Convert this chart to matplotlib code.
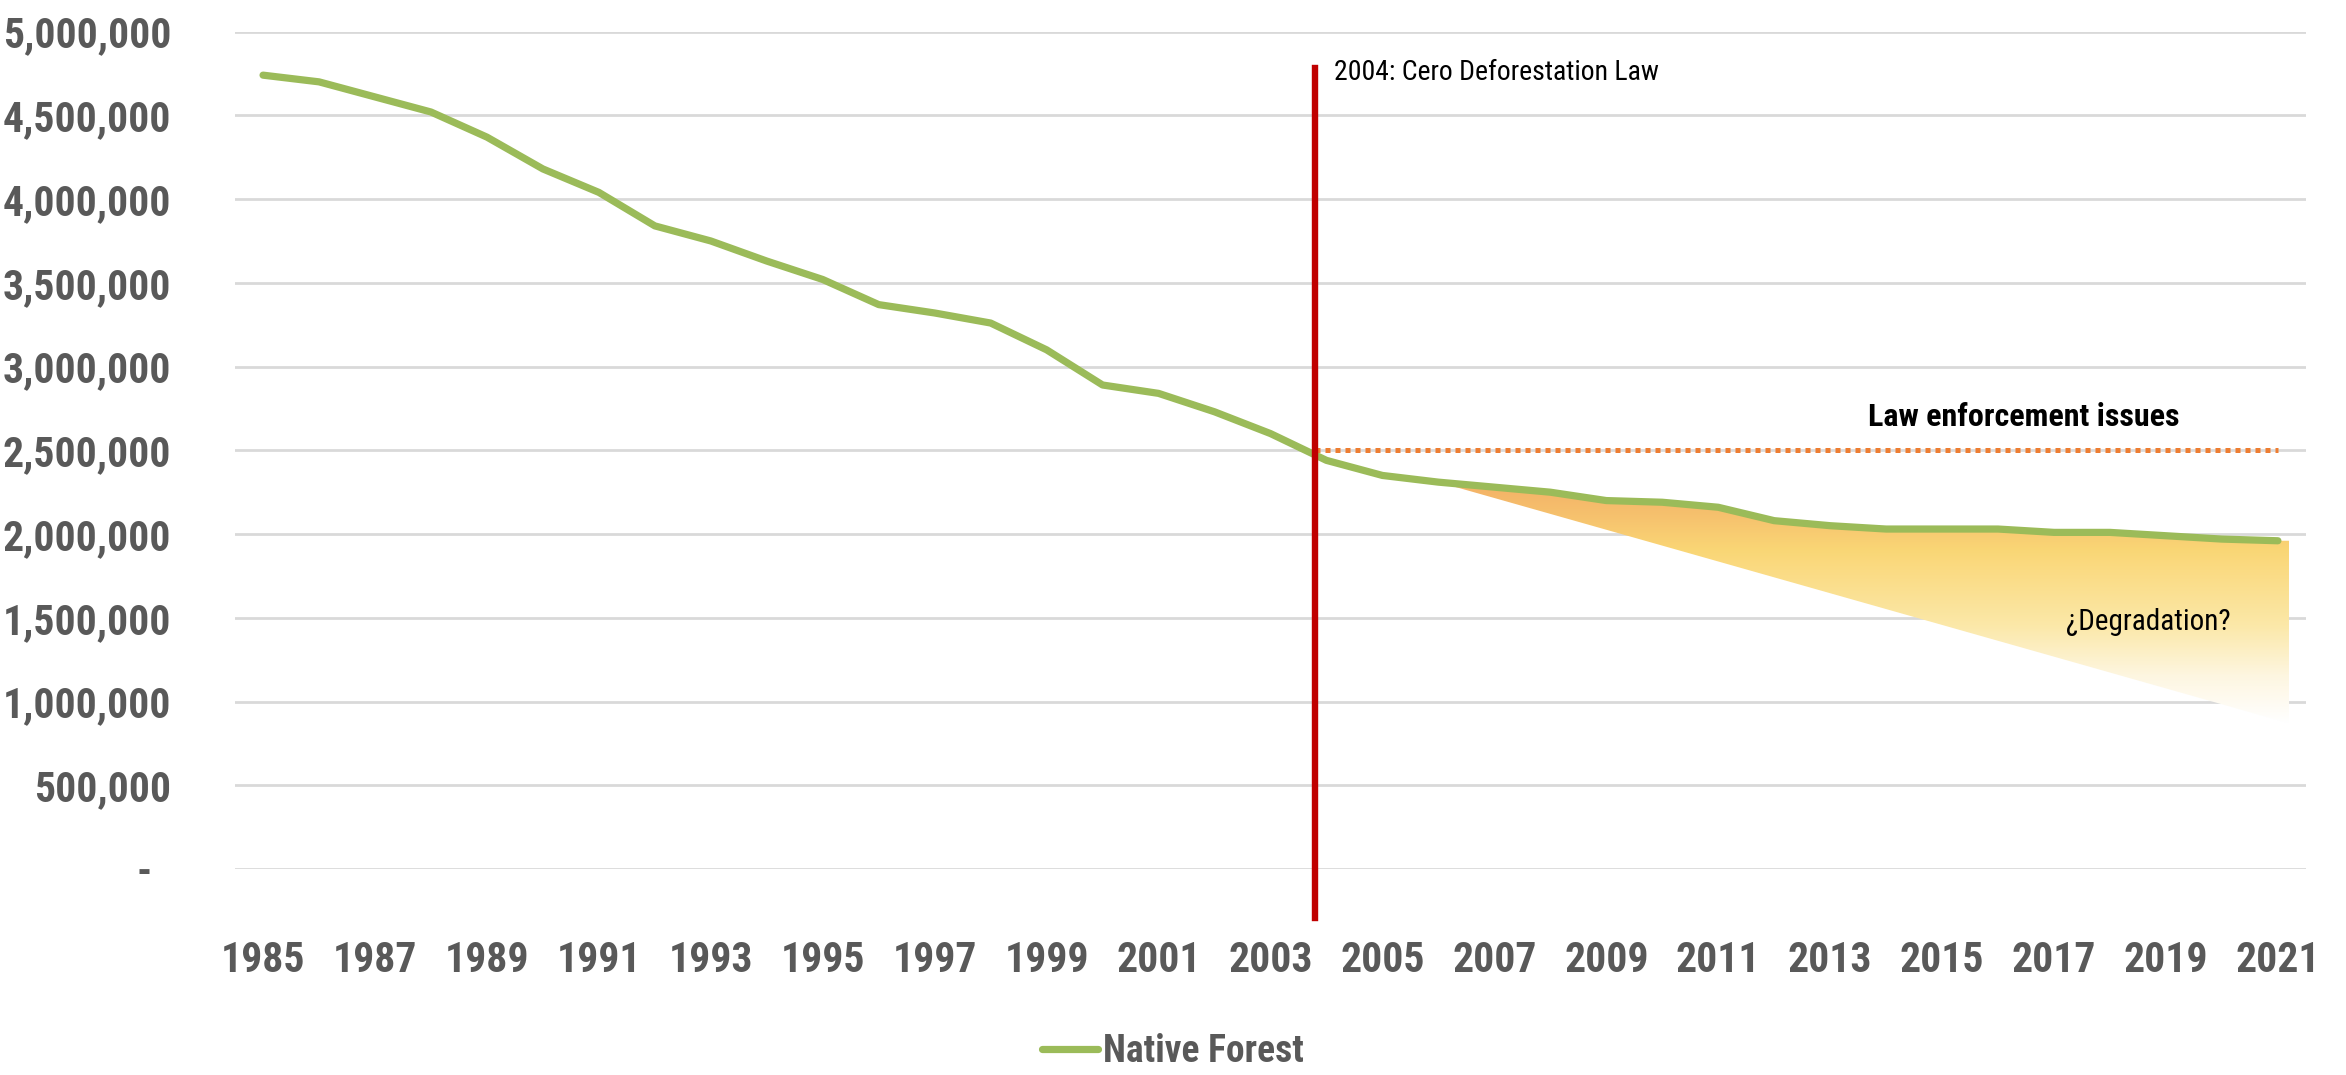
import os
import numpy as np
import matplotlib
matplotlib.use('Agg')
import matplotlib.pyplot as plt
from matplotlib import font_manager
from matplotlib.font_manager import FontProperties
from matplotlib.patches import Polygon
from matplotlib.ticker import FuncFormatter

# --- data ---
years = list(range(1985, 2022))
native_forest = [4740000, 4700000, 4610000, 4520000, 4370000, 4180000, 4040000,
                 3840000, 3750000, 3630000, 3520000, 3370000, 3320000, 3260000,
                 3100000, 2890000, 2840000, 2730000, 2600000, 2440000, 2350000,
                 2310000, 2280000, 2250000, 2200000, 2190000, 2160000, 2080000,
                 2050000, 2030000, 2030000, 2030000, 2010000, 2010000, 1990000,
                 1970000, 1960000]
xtick_years = list(range(1985, 2022, 2))
yticks = list(range(0, 5000001, 500000))

law_year = 2003.8          # where the red marker is drawn
law_top, law_bottom = 4780000, -290000
enforcement_level = 2500000
enforcement_x = [2003.8, 2021]
wedge_start = 2006          # degradation wedge leaves the curve here
wedge_end_x = 2021.2
wedge_end_low = 870000


# --- pick a condensed face (the original uses a very narrow one) ---
def find_font(names):
    files = {os.path.splitext(os.path.basename(f.fname))[0].lower(): f.fname
             for f in font_manager.fontManager.ttflist}
    for n in names:
        if n.lower() in files:
            return files[n.lower()]
    return None


bold_file = find_font(['NotoSans-ExtraCondensedBold', 'NotoSans-CondensedBold',
                       'LiberationSansNarrow-Bold', 'RobotoCondensed-Bold',
                       'OpenSans_Condensed-Bold', 'OpenSans-CondensedBold',
                       'DejaVuSansCondensed-Bold'])
reg_file = find_font(['NotoSans-ExtraCondensed', 'NotoSans-ExtraCondensedRegular',
                      'NotoSans-Condensed', 'NotoSans-CondensedRegular',
                      'LiberationSansNarrow-Regular', 'RobotoCondensed-Regular',
                      'OpenSans_Condensed-Regular', 'OpenSans-CondensedRegular',
                      'DejaVuSansCondensed'])
k = 1.0 if bold_file else 0.75


def fp(size, bold=True):
    f = bold_file if bold else (reg_file or bold_file)
    if f:
        return FontProperties(fname=f, size=size * k)
    return FontProperties(family='DejaVu Sans', size=size * k,
                          weight='bold' if bold else 'normal')


GREY = '#595959'
GREEN = '#9BBB59'

fig = plt.figure(figsize=(23.46, 10.75), dpi=100)
ax = fig.add_axes([0.1002, 0.1916, 0.8827, 0.779])

# gradient wedge
yrs = np.array(years, dtype=float)
vals = np.array(native_forest, dtype=float)
i0 = years.index(wedge_start)
top_x = list(yrs[i0:]) + [wedge_end_x]
top_y = list(vals[i0:]) + [vals[-1]]
poly_pts = list(zip(top_x, top_y)) + [(wedge_end_x, wedge_end_low), (wedge_start, vals[i0])]
poly = Polygon(poly_pts, closed=True, facecolor='none', edgecolor='none')
ax.add_patch(poly)

stops_v = np.array([wedge_end_low, 1150000, 1450000, 1900000, 2100000, vals[i0]])
stops_c = np.array([[1.0, 1.0, 1.0],
                    [0.995, 0.965, 0.88],
                    [0.985, 0.91, 0.66],
                    [0.98, 0.84, 0.46],
                    [0.965, 0.76, 0.43],
                    [0.955, 0.69, 0.40]])
gy = np.linspace(wedge_end_low, vals[i0], 300)
grad = np.stack([np.interp(gy, stops_v, stops_c[:, j]) for j in range(3)], axis=-1)
grad = grad[::-1][:, None, :]
im = ax.imshow(grad, aspect='auto', extent=[wedge_start, wedge_end_x, wedge_end_low, vals[i0]],
               zorder=1, interpolation='bilinear')
im.set_clip_path(poly)

ax.plot(years, native_forest, color=GREEN, lw=5.2, solid_capstyle='round', zorder=3,
        label='Native Forest')

ax.plot(enforcement_x, [enforcement_level] * 2, color='#ED7D31', lw=3.6,
        linestyle=(0, (1, 1)), dash_capstyle='butt', zorder=4)
ax.plot([law_year, law_year], [law_bottom, law_top], color='#C00000', lw=4.6,
        clip_on=False, zorder=5)

ax.text(2004.13, 4758000, '2004: Cero Deforestation Law', fontproperties=fp(20, False),
        color='black', va='center', ha='left')
ax.text(2016.46, 2699000, 'Law enforcement issues', fontproperties=fp(23, True),
        color='black', va='center', ha='center')
ax.text(2018.68, 1475000, '¿Degradation?', fontproperties=fp(21, False),
        color='black', va='center', ha='center')

ax.set_xlim(1984.5, 2021.5)
ax.set_ylim(0, 5000000)
ax.set_xticks(xtick_years)
ax.set_yticks(yticks)
ax.yaxis.set_major_formatter(FuncFormatter(lambda v, p: f'{v:,.0f}' if v else '-  '))
ax.grid(axis='y', color='#D9D9D9', lw=2)
ax.set_axisbelow(True)
for s in ax.spines.values():
    s.set_visible(False)
ax.tick_params(length=0, labelcolor=GREY)
ax.tick_params(axis='y', pad=46)
ax.tick_params(axis='x', pad=51)
for lab in ax.get_yticklabels():
    lab.set_fontproperties(fp(30, True))
for lab in ax.get_xticklabels():
    lab.set_fontproperties(fp(30, True))

leg = fig.legend(loc='center', bbox_to_anchor=(0.5, 0.0214), frameon=False,
                 prop=fp(27, True), handlelength=1.5, handletextpad=0.12)
for t in leg.get_texts():
    t.set_color(GREY)

fig.savefig('out.png', dpi=100)
